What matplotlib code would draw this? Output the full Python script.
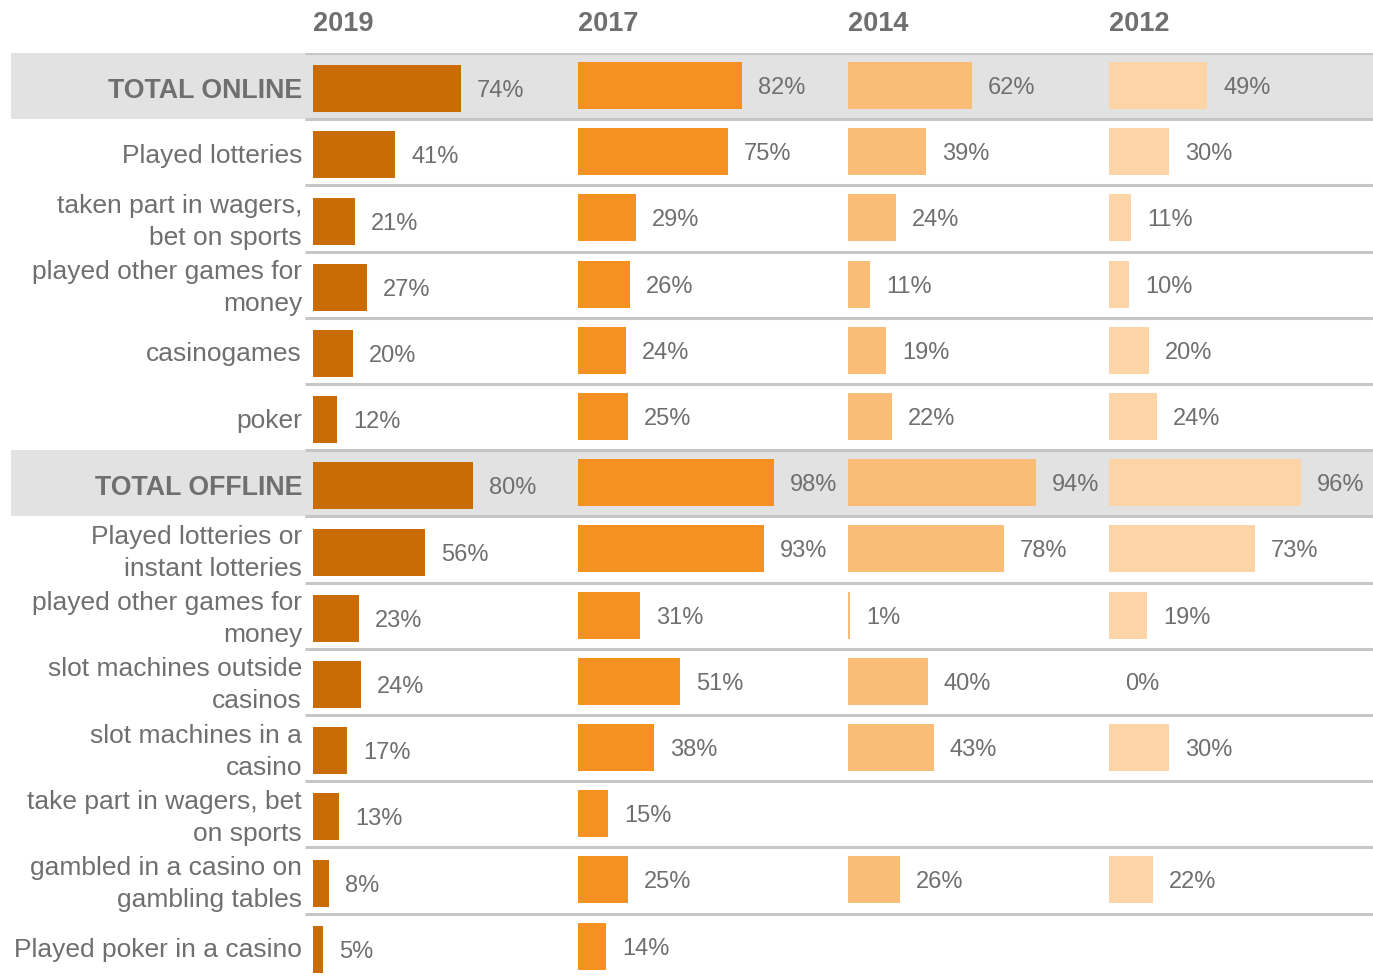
"""Gambling participation by year: horizontal bar table, one column per survey year."""

import matplotlib.pyplot as plt

# ----- Data ----- #
years = ["2019", "2017", "2014", "2012"]
row_labels = [
    "TOTAL ONLINE",
    "Played lotteries",
    "taken part in wagers,\nbet on sports",
    "played other games for\nmoney",
    "casinogames",
    "poker",
    "TOTAL OFFLINE",
    "Played lotteries or\ninstant lotteries",
    "played other games for\nmoney",
    "slot machines outside\ncasinos",
    "slot machines in a\ncasino",
    "take part in wagers, bet\non sports",
    "gambled in a casino on\ngambling tables",
    "Played poker in a casino",
]
total_rows = [0, 6]

values_2019 = [74, 41, 21, 27, 20, 12, 80, 56, 23, 24, 17, 13, 8, 5]
values_2017 = [82, 75, 29, 26, 24, 25, 98, 93, 31, 51, 38, 15, 25, 14]
values_2014 = [62, 39, 24, 11, 19, 22, 94, 78, 1, 40, 43, None, 26, None]
values_2012 = [49, 30, 11, 10, 20, 24, 96, 73, 19, 0, 30, None, 22, None]
series = [values_2019, values_2017, values_2014, values_2012]

# ----- Style ----- #
W, H = 1373, 977
colors = ["#C96C05", "#F49121", "#F9BD77", "#FCD4A6"]
text_color = "#6F6F6F"
band_color = "#E2E2E2"
line_color = "#C6C6C6"
col_left_px = [313, 578, 848, 1109]
bar_offset = [0.04, -0.01, -0.01, -0.01]   # fraction of row height (2019 sits a bit lower)
px_per_pct = 2.0
rows_top_px, row_h_px = 53, 66.2
n_rows = len(row_labels)
pct_dy = 2.5 / row_h_px     # small downward nudge for value labels
label_dy = 3.5 / row_h_px   # same for row labels
bold_dy = 5.0 / row_h_px

plt.rcParams["font.family"] = ["Liberation Sans", "DejaVu Sans"]

fig = plt.figure(figsize=(W / 100, H / 100), dpi=100)

rows_bottom_px = rows_top_px + n_rows * row_h_px
ax_bottom = (H - rows_bottom_px) / H
ax_height = n_rows * row_h_px / H

# Background axes: bands, separators, row labels
bg = fig.add_axes([0, ax_bottom, 1, ax_height])
bg.set_xlim(0, W)
bg.set_ylim(n_rows - 0.5, -0.5)
bg.axis("off")

for i in total_rows:
    bg.axhspan(i - 0.5, i + 0.5, xmin=11 / W, xmax=1, color=band_color, lw=0, zorder=0)
bg.hlines([i - 0.5 for i in range(n_rows)], 305, W, color=line_color, lw=2.2, zorder=1)
bg.hlines([i + 0.5 for i in total_rows], 305, W, color=line_color, lw=2.2, zorder=1)

for i, label in enumerate(row_labels):
    bold = i in total_rows
    bg.text(302, i + (bold_dy if bold else label_dy), label, ha="right", va="center",
            fontsize=19.3 if bold else 19, fontweight="bold" if bold else "normal",
            color=text_color, linespacing=1.42)

# One axes per year, x in percent
for k, (year, vals) in enumerate(zip(years, series)):
    width_pct = 130
    ax = fig.add_axes([col_left_px[k] / W, ax_bottom, width_pct * px_per_pct / W, ax_height])
    ax.set_xlim(0, width_pct)
    ax.set_ylim(n_rows - 0.5, -0.5)
    ax.axis("off")
    ax.patch.set_alpha(0)

    ys = [i + bar_offset[k] for i, v in enumerate(vals) if v is not None]
    ws = [v for v in vals if v is not None]
    ax.barh(ys, ws, height=0.71, color=colors[k], lw=0, zorder=2)
    for y, v in zip(ys, ws):
        ax.text(v + 8, y + pct_dy, f"{v}%", ha="left", va="center", fontsize=17,
                color=text_color, clip_on=False)

    fig.text(col_left_px[k] / W, 1 - 24 / H, year, ha="left", va="center",
             fontsize=19.5, fontweight="bold", color=text_color)

fig.savefig("out.png", dpi=100)
